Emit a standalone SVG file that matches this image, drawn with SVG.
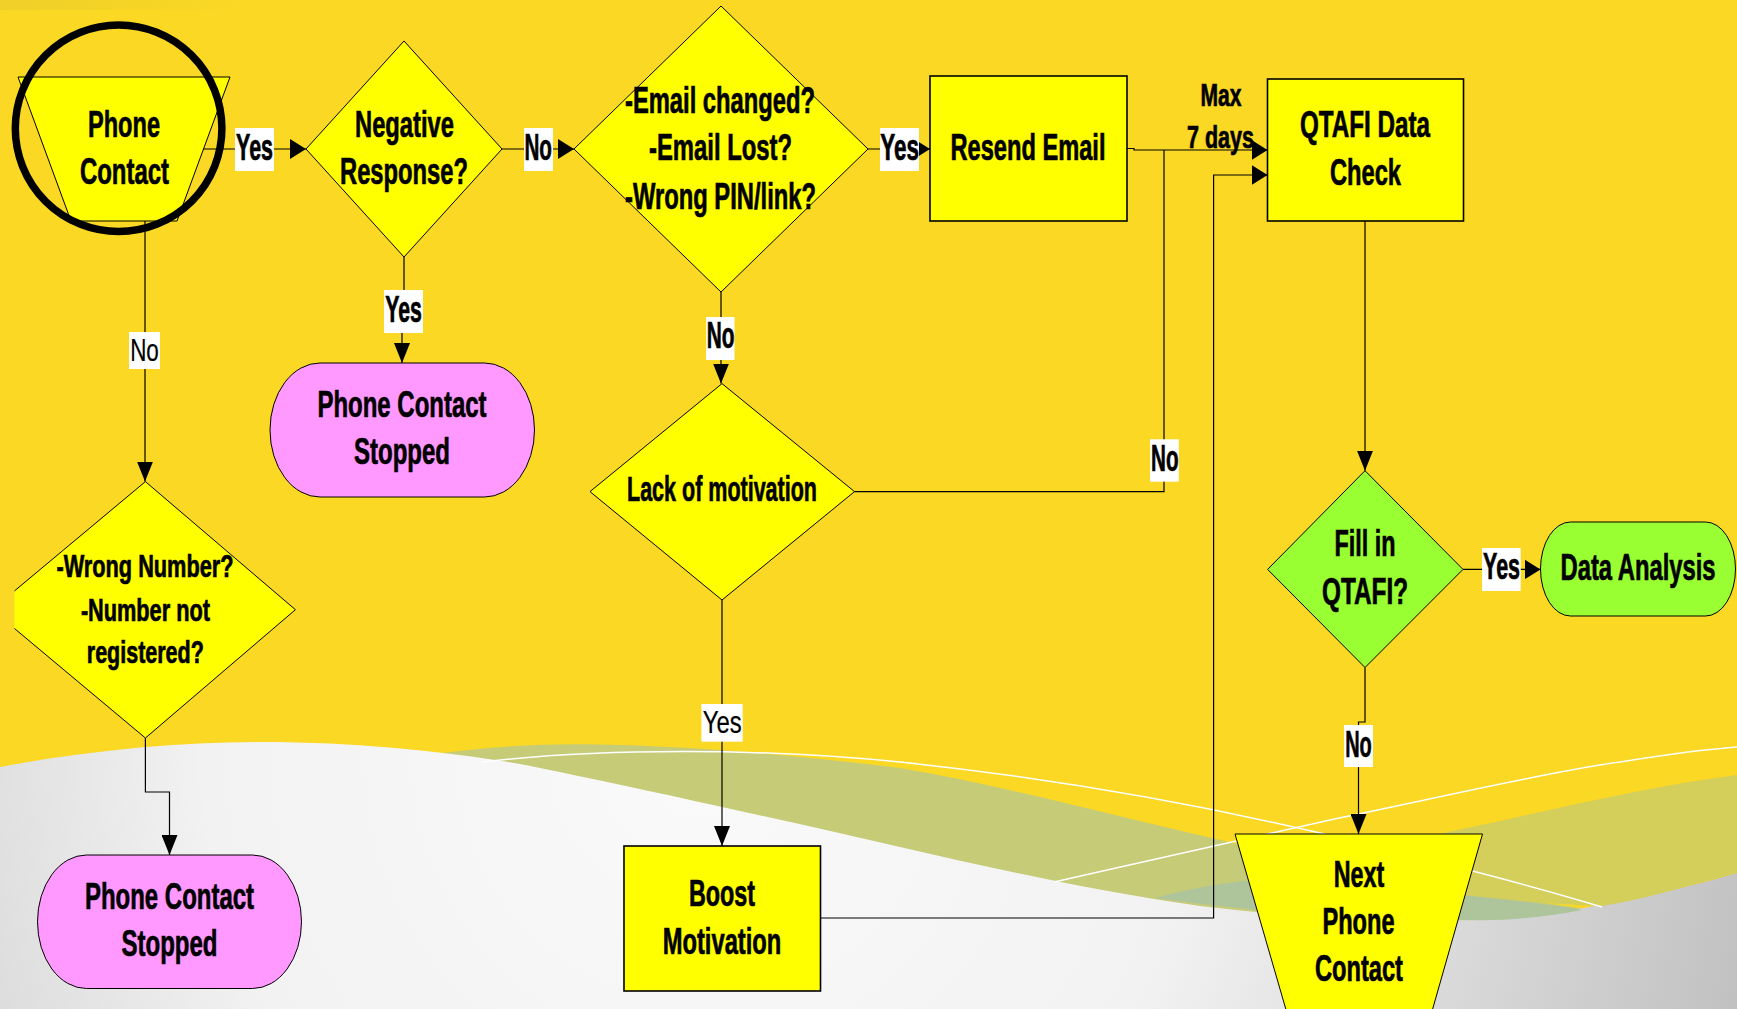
<svg xmlns="http://www.w3.org/2000/svg" width="1737" height="1009" viewBox="0 0 1737 1009">
<style>
.t{font-family:"Liberation Sans",Arial,sans-serif;font-weight:bold;font-size:37px;text-anchor:middle;fill:#000;stroke:#000;stroke-width:0.7px}
.s{font-size:31px}
.m{font-size:35px}
.r{font-weight:normal;font-size:31.5px;stroke-width:0.2px}
.ln{fill:none;stroke:#000;stroke-width:1.2}
.yl{fill:#FFFF00;stroke:#000;stroke-width:1}
.bx{fill:#FFFF00;stroke:#000;stroke-width:1.6}
.pk{fill:#FF99FF;stroke:#000;stroke-width:1}
.gr{fill:#99FF33;stroke:#000;stroke-width:1}
.lb{fill:#fff}
.wl{fill:none;stroke:#fff;stroke-width:1.5}
</style>
<defs>
<marker id="ah" viewBox="0 0 16 20" refX="16" refY="10" markerWidth="16" markerHeight="20" markerUnits="userSpaceOnUse" orient="auto"><path d="M0,0 L16,10 L0,20 Z" fill="#000"/></marker>
<marker id="av" viewBox="0 0 20 16" refX="20" refY="8" markerWidth="20" markerHeight="16" markerUnits="userSpaceOnUse" orient="auto"><path d="M0,0 L20,8 L0,16 Z" fill="#000"/></marker>
<radialGradient id="wg" gradientUnits="userSpaceOnUse" cx="700" cy="760" r="1100">
<stop offset="0" stop-color="#FAFAFA"/><stop offset="0.45" stop-color="#F2F2F2"/><stop offset="1" stop-color="#BEBEBE"/>
</radialGradient>
<linearGradient id="tg" x1="0" y1="0" x2="1" y2="0"><stop offset="0" stop-color="#E8C92C" stop-opacity="0.6"/><stop offset="1" stop-color="#E8C92C" stop-opacity="0"/></linearGradient>
<clipPath id="cl"><rect x="14.5" y="0" width="400" height="1009"/></clipPath>
</defs>

<g id="background">
<rect x="0" y="0" width="1737" height="1009" fill="#FAD824"/>
<rect x="0" y="0" width="240" height="10" fill="url(#tg)"/>
<path d="M436,754 C500,745 560,743 620,745 C720,748 820,758 900,768 C1000,785 1100,812 1220,840 C1330,866 1450,890 1580,908 L1580,960 L436,960 Z" fill="#C6CB78"/>
<path d="M0,767 C90,750 180,742 260,742 C360,742 450,752 520,764 C620,784 760,815 900,847 C1000,870 1100,892 1200,906 C1300,918 1400,922 1480,920 C1560,915 1650,898 1737,873 L1737,1009 L0,1009 Z" fill="url(#wg)"/>
<path d="M1270,872 C1340,855 1410,840 1472,827 C1560,808 1650,786 1737,775 L1737,873 C1680,888 1640,900 1602,906 C1560,905 1520,900 1472,897 C1400,890 1330,882 1270,878 Z" fill="#D4CE5A"/>
<path d="M1155,898 C1200,886 1240,880 1280,878 C1350,882 1420,890 1472,896 C1520,901 1560,906 1582,910 C1540,918 1500,921 1472,920 C1380,920 1280,915 1155,898 Z" fill="#AEC49B"/>
<path class="wl" d="M482,762 C600,748 760,748 900,762 C1050,778 1200,805 1320,833 C1420,857 1520,882 1602,907"/>
<path class="wl" d="M1054,882 C1150,860 1250,838 1330,820 C1450,795 1560,770 1620,762 C1670,754 1710,749 1737,747"/>
</g>

<g id="n-phone-contact">
<polygon class="yl" points="18,77 230,77 177,221 71,221"/>
<text class="t" x="124" y="137" textLength="72" lengthAdjust="spacingAndGlyphs">Phone</text>
<text class="t" x="124.5" y="184" textLength="89" lengthAdjust="spacingAndGlyphs">Contact</text>
</g>
<g id="n-negative">
<polygon class="yl" points="404,41 502,149 404,257 306,149"/>
<text class="t" x="404.5" y="137" textLength="99" lengthAdjust="spacingAndGlyphs">Negative</text>
<text class="t" x="404" y="184" textLength="128" lengthAdjust="spacingAndGlyphs">Response?</text>
</g>
<g id="n-email">
<polygon class="yl" points="721,6 868,149 721,292 574,149"/>
<text class="t" x="720" y="113" textLength="190" lengthAdjust="spacingAndGlyphs">-Email changed?</text>
<text class="t" x="720.5" y="160" textLength="143" lengthAdjust="spacingAndGlyphs">-Email Lost?</text>
<text class="t" x="720.5" y="209" textLength="191" lengthAdjust="spacingAndGlyphs">-Wrong PIN/link?</text>
</g>
<g id="n-resend">
<rect class="bx" x="930" y="76" width="197" height="145"/>
<text class="t" x="1028" y="160" textLength="155" lengthAdjust="spacingAndGlyphs">Resend Email</text>
</g>
<g id="n-qtafi-check">
<rect class="bx" x="1267.5" y="79" width="196" height="142"/>
<text class="t" x="1365" y="137" textLength="130" lengthAdjust="spacingAndGlyphs">QTAFI Data</text>
<text class="t" x="1365.5" y="185" textLength="71" lengthAdjust="spacingAndGlyphs">Check</text>
</g>
<g id="n-stopped-1">
<rect class="pk" x="270" y="363" width="264.5" height="134" rx="50" ry="67"/>
<text class="t" x="402" y="417" textLength="169" lengthAdjust="spacingAndGlyphs">Phone Contact</text>
<text class="t" x="402" y="464" textLength="96" lengthAdjust="spacingAndGlyphs">Stopped</text>
</g>
<g id="n-lack">
<polygon class="yl" points="722,383.6 854.5,491.6 722,600 590,491.6"/>
<text class="t m" x="722" y="501" textLength="190" lengthAdjust="spacingAndGlyphs">Lack of motivation</text>
</g>
<g id="n-wrong-number">
<polygon class="yl" clip-path="url(#cl)" points="145.4,481.6 295.4,609.7 145.4,738 -8,609.7"/>
<text class="t s" x="145" y="577" textLength="177" lengthAdjust="spacingAndGlyphs">-Wrong Number?</text>
<text class="t s" x="145.4" y="621" textLength="129" lengthAdjust="spacingAndGlyphs">-Number not</text>
<text class="t s" x="145.3" y="663" textLength="117" lengthAdjust="spacingAndGlyphs">registered?</text>
</g>
<g id="n-boost">
<rect class="bx" x="624" y="846" width="196.5" height="145"/>
<text class="t" x="722" y="906" textLength="66" lengthAdjust="spacingAndGlyphs">Boost</text>
<text class="t" x="722" y="954" textLength="118.5" lengthAdjust="spacingAndGlyphs">Motivation</text>
</g>
<g id="n-fill-in">
<polygon class="gr" points="1365,470.7 1463,569.4 1365,667.5 1267.6,569.4"/>
<text class="t" x="1365" y="556" textLength="61" lengthAdjust="spacingAndGlyphs">Fill in</text>
<text class="t" x="1365" y="604" textLength="86" lengthAdjust="spacingAndGlyphs">QTAFI?</text>
</g>
<g id="n-data-analysis">
<rect class="gr" x="1540.5" y="522" width="195" height="94" rx="30" ry="47"/>
<text class="t" x="1638" y="580" textLength="155" lengthAdjust="spacingAndGlyphs">Data Analysis</text>
</g>
<g id="n-next-phone">
<polygon class="yl" points="1235,834 1482.5,834 1429.5,1020 1289,1020"/>
<text class="t" x="1359" y="887" textLength="50.5" lengthAdjust="spacingAndGlyphs">Next</text>
<text class="t" x="1358.5" y="934" textLength="72" lengthAdjust="spacingAndGlyphs">Phone</text>
<text class="t" x="1359" y="981" textLength="88" lengthAdjust="spacingAndGlyphs">Contact</text>
</g>
<g id="n-stopped-2">
<rect class="pk" x="37.5" y="855" width="264" height="133.5" rx="49" ry="67"/>
<text class="t" x="169.5" y="909" textLength="169" lengthAdjust="spacingAndGlyphs">Phone Contact</text>
<text class="t" x="169.5" y="956" textLength="96" lengthAdjust="spacingAndGlyphs">Stopped</text>
</g>

<g id="connectors">
<path class="ln" d="M203,149 H306" marker-end="url(#ah)"/>
<path class="ln" d="M502,149 H574" marker-end="url(#ah)"/>
<path class="ln" d="M404,257 V311 H402 V363" marker-end="url(#av)"/>
<path class="ln" d="M145,221 V481.6" marker-end="url(#av)"/>
<path class="ln" d="M145.4,738 V792 H169.5 V855" marker-end="url(#av)"/>
<path class="ln" d="M868,149 H930" marker-end="url(#ah)"/>
<path class="ln" d="M721,292 V383.6" marker-end="url(#av)"/>
<path class="ln" d="M1127,148.5 H1134 V150 H1267.5" marker-end="url(#ah)"/>
<path class="ln" d="M854.5,491.6 H1164 V150"/>
<path class="ln" d="M722,600 V846" marker-end="url(#av)"/>
<path class="ln" d="M820.5,918 H1213.6 V175 H1267.5" marker-end="url(#ah)"/>
<path class="ln" d="M1365,221 V470.7" marker-end="url(#av)"/>
<path class="ln" d="M1463,569.4 H1540.5" marker-end="url(#ah)"/>
<path class="ln" d="M1365,667.5 V722 H1358.5 V834" marker-end="url(#av)"/>
</g>

<g id="labels">
<rect class="lb" x="235" y="128" width="39" height="43"/>
<text class="t" x="254.5" y="159.5" textLength="37" lengthAdjust="spacingAndGlyphs">Yes</text>
<rect class="lb" x="524" y="128" width="29" height="43"/>
<text class="t" x="538.2" y="159.5" textLength="27.5" lengthAdjust="spacingAndGlyphs">No</text>
<rect class="lb" x="384" y="290" width="39" height="43"/>
<text class="t" x="403.5" y="321.7" textLength="36.7" lengthAdjust="spacingAndGlyphs">Yes</text>
<rect class="lb" x="129" y="332" width="31" height="37"/>
<text class="t r" x="144.5" y="360.7" textLength="28.7" lengthAdjust="spacingAndGlyphs">No</text>
<rect class="lb" x="880" y="128" width="39" height="43"/>
<text class="t" x="899.7" y="159.5" textLength="38.7" lengthAdjust="spacingAndGlyphs">Yes</text>
<rect class="lb" x="706" y="317" width="28.5" height="43"/>
<text class="t" x="720.6" y="348.3" textLength="27.8" lengthAdjust="spacingAndGlyphs">No</text>
<rect class="lb" x="1150" y="439.3" width="28.8" height="42.4"/>
<text class="t" x="1164.8" y="470.8" textLength="27.5" lengthAdjust="spacingAndGlyphs">No</text>
<rect class="lb" x="701.4" y="704" width="41.3" height="37.7"/>
<text class="t r" x="722.3" y="732.5" textLength="39" lengthAdjust="spacingAndGlyphs">Yes</text>
<rect class="lb" x="1482" y="548" width="38.7" height="43"/>
<text class="t" x="1501.5" y="579" textLength="37" lengthAdjust="spacingAndGlyphs">Yes</text>
<rect class="lb" x="1344" y="725" width="29" height="42"/>
<text class="t" x="1358.5" y="757.3" textLength="26.6" lengthAdjust="spacingAndGlyphs">No</text>
<text class="t s" x="1221" y="106" textLength="41" lengthAdjust="spacingAndGlyphs">Max</text>
<text class="t s" x="1220.5" y="148" textLength="67" lengthAdjust="spacingAndGlyphs">7 days</text>
</g>

<g id="highlight-circle">
<circle cx="118.6" cy="128.3" r="103.3" fill="none" stroke="#000" stroke-width="7.5"/>
</g>
</svg>
